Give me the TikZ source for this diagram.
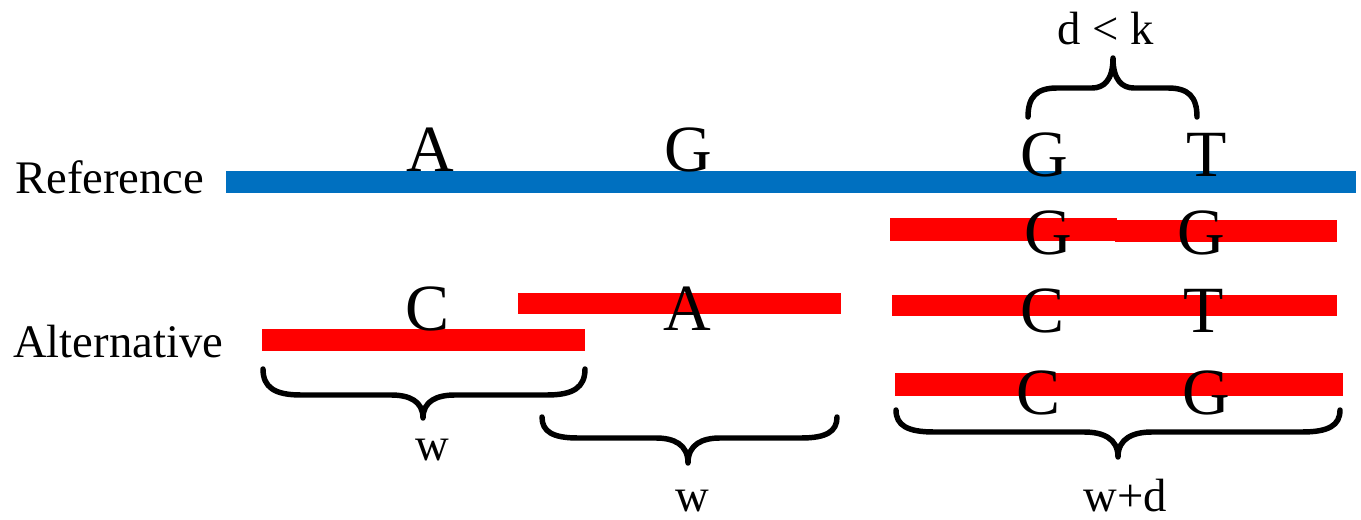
\documentclass[tikz,border=0pt]{standalone}
\usepackage{fontspec}
\setmainfont{Liberation Serif}
\definecolor{refblue}{RGB}{0,112,192}
\definecolor{altred}{RGB}{255,0,0}
% Curly brace: #1 left x, #2 right x, #3 y of the ends, #4 rise to the bar,
% #5 x of the tip, #6 rise from bar to tip, #7 end curl width, #8 tip curl width
\newcommand\curlybrace[8]{%
  \draw[bracestroke] (#1,#3)
    .. controls (#1,{#3+0.7*(#4)}) and ({#1+0.3*#7},{#3+#4}) .. ({#1+#7},{#3+#4})
    -- ({#5-#8},{#3+#4})
    .. controls ({#5-0.45*#8},{#3+#4}) and (#5,{#3+#4+0.25*(#6)}) .. (#5,{#3+#4+#6})
    .. controls (#5,{#3+#4+0.25*(#6)}) and ({#5+0.45*#8},{#3+#4}) .. ({#5+#8},{#3+#4})
    -- ({#2-#7},{#3+#4})
    .. controls ({#2-0.3*#7},{#3+#4}) and (#2,{#3+0.7*(#4)}) .. (#2,#3);%
}
\begin{document}
\begin{tikzpicture}[x=0.75pt,y=-0.75pt,
  basechar/.style={font=\fontsize{49.5}{50}\selectfont, inner sep=0pt, anchor=base},
  lbl/.style={font=\fontsize{35}{36}\selectfont, inner sep=0pt, anchor=base},
  refbar/.style={fill=refblue},
  altbar/.style={fill=altred},
  bracestroke/.style={line width=4.1pt, line cap=round, line join=round}]
\useasboundingbox (0,0) rectangle (1361,520);

% reference sequence
\fill[refbar] (226,171.5) rectangle (1356,193);

% alternative reads
\fill[altbar] (262,329) rectangle (585,351);
\fill[altbar] (518,293) rectangle (841,314);
\fill[altbar] (890,218) rectangle (1117,241);
\fill[altbar] (1115,220) rectangle (1337,242);
\fill[altbar] (892,295) rectangle (1337,316);
\fill[altbar] (895,373) rectangle (1343,396);

% row labels
\node[lbl, anchor=base west] (reflabel) at (15,194) {Reference};
\node[lbl, anchor=base west] (altlabel) at (13,358) {Alternative};

% bases on the reference
\node[basechar] (rA)  at (430,172) {A};
\node[basechar] (rG1) at (688,172) {G};
\node[basechar] (rG2) at (1044,177) {G};
\node[basechar] (rT)  at (1207,177) {T};

% bases on the alternatives
\node[basechar] (aC)  at (428,331) {C};
\node[basechar] (aA)  at (687,331) {A};
\node[basechar] (b1a) at (1048,255) {G};
\node[basechar] (b1b) at (1201,255) {G};
\node[basechar] (b2a) at (1043,333) {C};
\node[basechar] (b2b) at (1204,333) {T};
\node[basechar] (b3a) at (1039,415) {C};
\node[basechar] (b3b) at (1206,415) {G};

% braces
\curlybrace{263}{585}{369}{26}{423}{23}{38}{32}
\curlybrace{542}{837}{417}{21}{688}{25}{36}{32}
\curlybrace{896}{1340}{410}{22}{1118}{25}{38}{34}
\curlybrace{1028}{1197}{117}{-29}{1113}{-30}{29}{21}

% brace labels
\node[lbl] (w1)  at (432,460) {w};
\node[lbl] (w2)  at (692,511) {w};
\node[lbl] (wd)  at (1125,511) {w+d};
\node[lbl] (dk)  at (1106,45) {d < k};
\end{tikzpicture}
\end{document}
